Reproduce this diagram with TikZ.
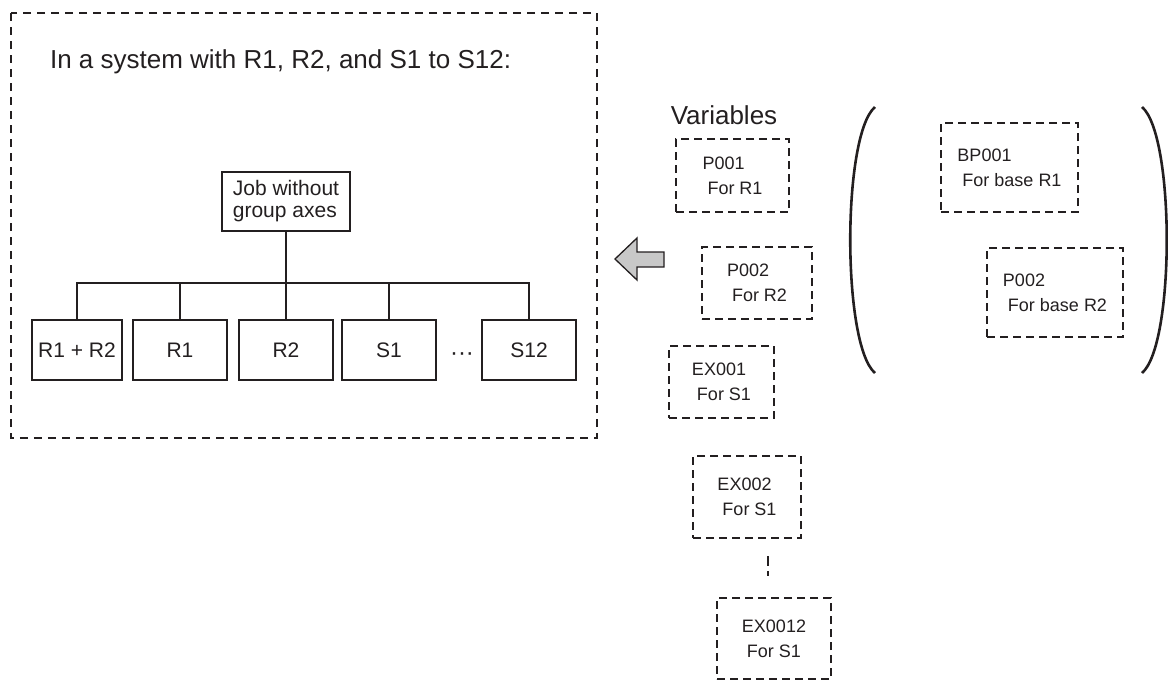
\documentclass[tikz,border=0pt]{standalone}
\usepackage{fontspec}
\setmainfont{Liberation Sans}
\usetikzlibrary{positioning}
\definecolor{ink}{RGB}{35,31,32}
\definecolor{arrowgray}{RGB}{200,200,200}

\begin{document}
\begin{tikzpicture}[x=0.5pt, y=-0.5pt,
  frame/.style={draw=ink, line width=1.35pt, dash pattern=on 4pt off 3pt},
  varbox/.style={draw=ink, line width=1.3pt, dash pattern=on 3.8pt off 2.7pt,
    align=left, inner sep=0pt, text=ink, font=\fontsize{9}{12.5}\selectfont},
  unitbox/.style={draw=ink, line width=0.65pt, minimum height=30pt, inner sep=0pt,
    text=ink, font=\fontsize{10.5}{11}\selectfont},
  tree/.style={draw=ink, line width=0.65pt},
  link/.style={draw=ink, line width=1.3pt, dash pattern=on 5pt off 2.5pt},
  bigtext/.style={text=ink, font=\fontsize{13}{15}\selectfont}]
  \useasboundingbox (0,0) rectangle (1168,682);

  % system with the job tree
  \draw[frame] (11,13) rectangle (597,438);
  \node[bigtext, anchor=west] (title) at (43,62) {In a system with R1, R2, and S1 to S12:};
  \node[unitbox, minimum width=64pt, minimum height=29.5pt, align=left] (job) at (286,201.5)
    {Job without\\group axes};
  \foreach \n/\x/\w/\t in {
    r12/77/45pt/{R1 + R2},
    r1/180/47pt/R1,
    r2/286/47pt/R2,
    s1/389/47pt/S1,
    s12/529/47pt/S12
  } {
    \node[unitbox, minimum width=\w] (\n) at (\x,350) {\t};
  }
  \node[text=ink, font=\fontsize{12}{12}\selectfont, inner sep=0pt] (dots) at (462,357)
    {\textperiodcentered\textperiodcentered\textperiodcentered};
  \coordinate (bus) at (286,283);
  \draw[tree] (job) -- (r2);
  \draw[tree] (r12.north) -- (r12.north |- bus) -- (s12.north |- bus) -- (s12.north);
  \foreach \n in {r1, s1}
    \draw[tree] (\n.north) -- (\n.north |- bus);

  % block arrow
  \draw[ink, line width=0.65pt, fill=arrowgray]
    (615,259) -- (637,238) -- (637,252) -- (664,252) -- (664,267) -- (637,267) -- (637,280) -- cycle;

  % variables
  \node[bigtext] (vars) at (724,115) {Variables};
  \foreach \n/\x/\y/\w/\h/\a/\b in {
    p1/732.5/175.5/56.5pt/36.5pt/P001/For R1,
    p2/757/283/55pt/36pt/P002/For R2,
    ex1/721.5/382/52.5pt/36pt/EX001/For S1,
    ex2/747/497/54pt/41pt/EX002/For S1,
    ex12/774/638.5/57pt/40.5pt/EX0012/For S1,
    bp1/1009.5/167.5/68.5pt/44.5pt/BP001/For base R1,
    bp2/1055/292.5/68pt/44.5pt/P002/For base R2
  } {
    \node[varbox, minimum width=\w, minimum height=\h] (\n) at (\x,\y) {\a\\\hspace{2.5pt}\b};
  }
  \path (ex12.north) ++(-6,0) coordinate (gaptop);
  \draw[link, shorten <=8.5pt, shorten >=10.5pt] (gaptop |- ex2.south) -- (gaptop);

  % parentheses round the base variables
  \draw[ink, line width=1.3pt] (875,107) .. controls (842,135) and (842,345) .. (875,373);
  \draw[ink, line width=1.3pt] (1142,107) .. controls (1175,135) and (1175,345) .. (1142,373);
\end{tikzpicture}
\end{document}
